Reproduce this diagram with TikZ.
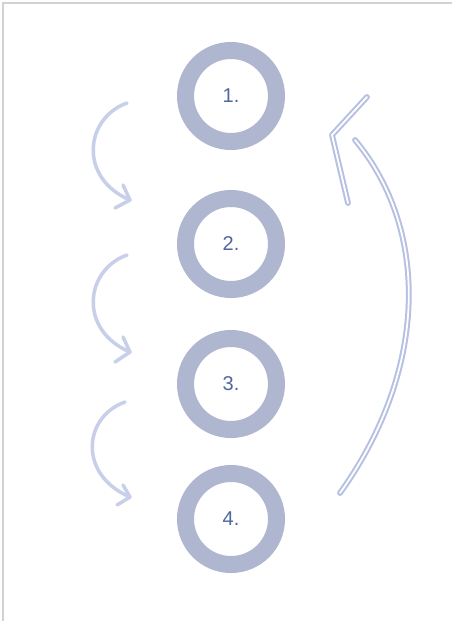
\documentclass[tikz,border=0pt]{standalone}
\usepackage{fontspec}
\setmainfont{Liberation Sans}
\definecolor{ringc}{HTML}{AFB7D0}
\definecolor{numc}{HTML}{50669E}
\definecolor{larrc}{HTML}{C8CFE8}
\definecolor{rarrc}{HTML}{B6C0E2}
\definecolor{framec}{HTML}{D2D2D2}
\begin{document}
\begin{tikzpicture}[x=1pt,y=-1pt,
  ring/.style={circle,draw=ringc,line width=17pt,minimum size=91pt,inner sep=0pt,
    text=numc,font=\fontsize{20}{22}\selectfont},
  curvarrow/.style={draw=larrc,line width=3.5pt,line cap=round,line join=round},
  backarrow/.style={draw=rarrc,line width=2pt,double=white,double distance=1.8pt,line cap=round,line join=round}]
\useasboundingbox (0,0) rectangle (452,621);
\fill[white] (0,0) rectangle (452,621);
\draw[framec,line width=1.5pt] (3,621) -- (3,3) -- (452,3);
% rings
\node[ring] (r1) at (231,96) {1.};
\node[ring] (r2) at (231,244) {2.};
\node[ring] (r3) at (231,384) {3.};
\node[ring] (r4) at (231,519) {4.};
% left curved arrows
\coordinate (a1s) at (127,103); \coordinate (a1t) at (130,200);
\coordinate (a2s) at (127,255); \coordinate (a2t) at (130,352);
\coordinate (a3s) at (125,402); \coordinate (a3t) at (130,497);
\draw[curvarrow] (a1s) .. controls (85,118) and (78,178) .. (a1t);
\draw[curvarrow] (123,185) -- (a1t) -- (115,208);
\draw[curvarrow] (a2s) .. controls (85,270) and (78,330) .. (a2t);
\draw[curvarrow] (123,337) -- (a2t) -- (115,362);
\draw[curvarrow] (a3s) .. controls (83,417) and (78,475) .. (a3t);
\draw[curvarrow] (123,485) -- (a3t) -- (117,505);
% right return arrow (double line)
\coordinate (bs) at (340,493); \coordinate (be) at (355,140);
\coordinate (bt) at (332,135);
\draw[backarrow] (bs) .. controls (428,370) and (430,230) .. (be);
\draw[backarrow] (367,97) -- (bt) -- (348,203);
\end{tikzpicture}
\end{document}
